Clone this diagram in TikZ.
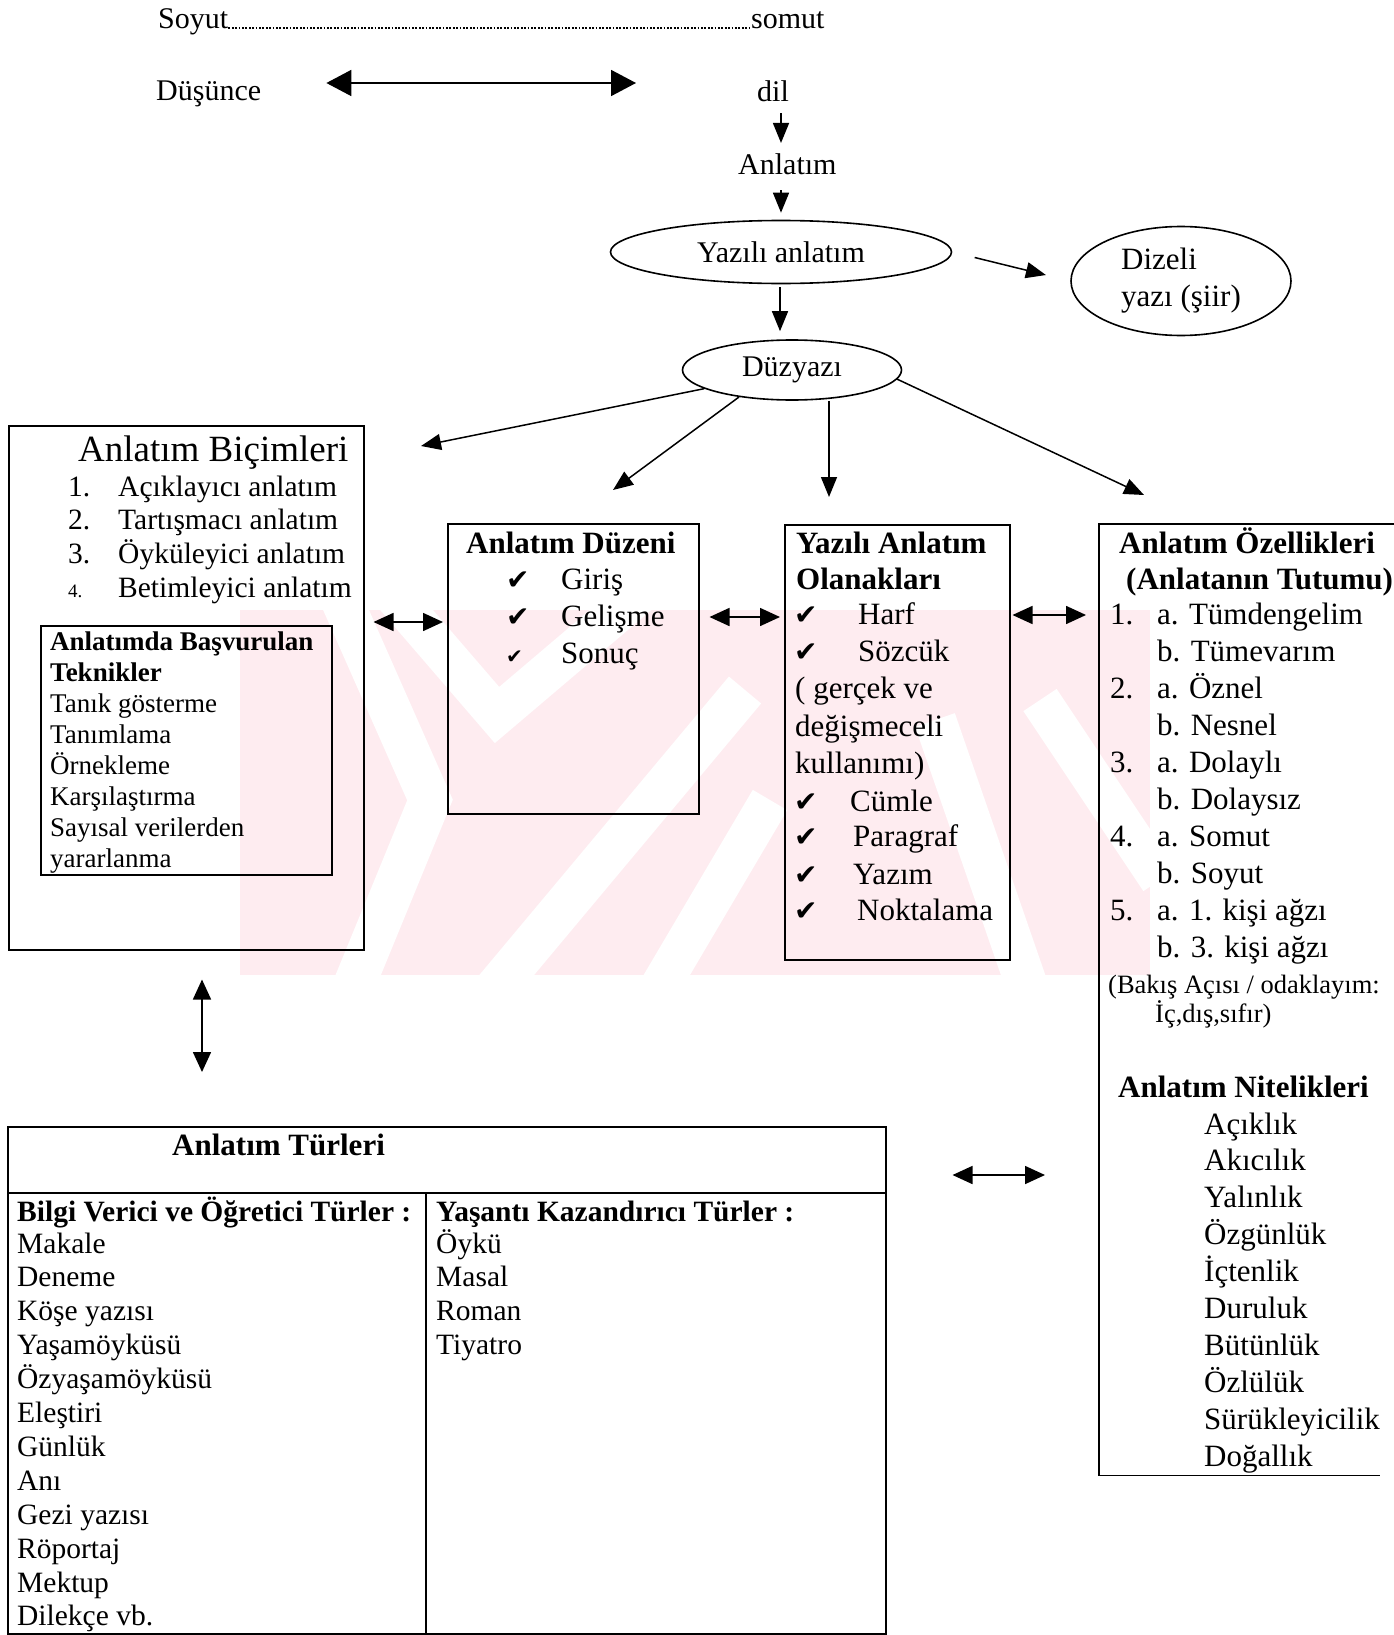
\documentclass[tikz,border=0pt]{standalone}
\usepackage{fontspec}
\setmainfont{Liberation Serif}
\newfontfamily\isaretfont{DejaVu Sans}
\usetikzlibrary{arrows.meta,shapes.geometric}

\definecolor{pembe}{RGB}{254,236,240}
\newcommand{\onay}{{\isaretfont\fontsize{28}{28}\selectfont ✔}}
\newcommand{\kucukonay}{{\isaretfont\fontsize{20}{20}\selectfont ✔}}

\tikzset{
  kutu/.style={draw, line width=1.5pt, inner sep=0pt},
  yazi/.style={inner sep=0pt, anchor=base west, font=\fontsize{31}{35}\selectfont},
  kalin/.style={yazi, font=\fontsize{31}{35}\selectfont\bfseries},
  tablo/.style={yazi, font=\fontsize{29.5}{34}\selectfont},
  balon/.style={draw, ellipse, line width=1.6pt, inner sep=0pt, font=\fontsize{30}{34}\selectfont},
  ok/.style={-{Triangle[length=20pt,width=16pt]}, line width=1.5pt},
  ciftok/.style={{Triangle[length=20pt,width=18pt]}-{Triangle[length=20pt,width=18pt]}, line width=1.6pt},
}

\begin{document}
\begin{tikzpicture}[x=1pt, y=-1pt]
    \useasboundingbox (0,0) rectangle (1393,1635);

    % faint watermark behind the boxes
    \begin{scope}
        \clip (240,610) rectangle (1150,975);
        \fill[pembe] (240,610) rectangle (1150,975);
        \draw[white, line width=42pt] (335,585) -- (430,800) -- (350,995);
        \draw[white, line width=40pt] (385,585) -- (497,715) -- (650,585);
        \draw[white, line width=42pt] (745,690) -- (490,995);
        \draw[white, line width=40pt] (770,800) -- (655,995);
        \draw[white, line width=42pt] (935,720) -- (1030,995);
        \draw[white, line width=40pt] (1040,700) -- (1160,880);
    \end{scope}

    % top line
    \node[yazi, font=\fontsize{30}{34}\selectfont] (soyut) at (158,29) {Soyut};
    \node[yazi, font=\fontsize{30}{34}\selectfont] (somut) at (751,29) {somut};
    \draw[line width=1.8pt, dash pattern=on 1.8pt off 1.6pt]
        ([yshift=1pt]soyut.base east) -- ([yshift=1pt]somut.base west);

    \node[yazi, font=\fontsize{30}{34}\selectfont] (dusunce) at (156,101) {Düşünce};
    \node[yazi, font=\fontsize{30}{34}\selectfont] (dil) at (757,102) {dil};
    \node[yazi, font=\fontsize{30}{34}\selectfont] (anlatim) at (738,174) {Anlatım};
    \draw[{Triangle[length=25pt,width=26pt]}-{Triangle[length=25pt,width=26pt]}, line width=1.8pt,
        shorten <=65pt, shorten >=121pt] (dusunce.east |- 0,83) -- (dil.west |- 0,83);
    \draw[ok, shorten <=11pt, shorten >=10pt] (dil.south -| 781,0) -- (anlatim.north -| 781,0);

    % ellipses
    \node[balon, minimum width=341pt, minimum height=63pt] (yazili) at (781,252) {Yazılı anlatım};
    \node[balon, minimum width=220pt, minimum height=109pt, align=left,
        font=\fontsize{31}{35}\selectfont] (dizeli) at (1181,281) {Dizeli\\[2pt]yazı (şiir)};
    \node[balon, minimum width=219pt, minimum height=60pt] (duzyazi) at (792,370) {Düzyazı};

    \draw[ok, shorten <=16pt, shorten >=7pt] (anlatim.south -| 781,0) -- (yazili.north -| 781,0);
    \draw[ok, shorten <=3pt, shorten >=8pt] (yazili.south -| 780,0) -- (duzyazi.north -| 780,0);
    \draw[ok, shorten <=23pt, shorten >=25pt] (yazili.east) -- (dizeli.west);

    % boxes
    \node[kutu, minimum width=355pt, minimum height=524pt, anchor=north west] (bicim) at (8,425) {};
    \node[kutu, minimum width=291pt, minimum height=249pt, anchor=north west] (teknik) at (40,625) {};
    \node[kutu, minimum width=251pt, minimum height=290pt, anchor=north west] (duzen) at (447,523) {};
    \node[kutu, minimum width=225pt, minimum height=435pt, anchor=north west] (olanak) at (784,524) {};
    \node[inner sep=0pt, minimum width=310pt, minimum height=951pt, anchor=north west] (ozellik) at (1099,524) {};
    \draw[line width=1.5pt] (ozellik.north east) -- (ozellik.north west) -- (ozellik.south west) -- ++(281,0);
    \node[kutu, minimum width=878pt, minimum height=507pt, anchor=north west] (turler) at (7,1126) {};
    \coordinate (ayrac) at (426,1193);
    \draw[line width=1.5pt] (turler.west |- ayrac) -- (turler.east |- ayrac);
    \draw[line width=1.5pt] (ayrac) -- (turler.south -| ayrac);

    % arrows out of Duzyazi
    \coordinate (ucA) at (421,446);
    \coordinate (ucB) at (613,490);
    \coordinate (ucC) at (829,497);
    \coordinate (ucD) at (1144,495);
    \draw[ok] (duzyazi.192) -- (ucA);
    \draw[ok] (duzyazi.207) -- (ucB);
    \draw[ok] (duzyazi.south -| ucC) -- (ucC);
    \draw[ok] (duzyazi.355) -- (ucD);

    % two-way arrows between boxes
    \draw[ciftok, shorten <=9pt, shorten >=4pt] (bicim.east |- 0,622) -- (duzen.west |- 0,622);
    \draw[ciftok, shorten <=10pt, shorten >=4pt] (duzen.east |- 0,617) -- (olanak.west |- 0,617);
    \draw[ciftok, shorten <=2pt, shorten >=13pt] (olanak.east |- 0,615) -- (ozellik.west |- 0,615);
    \draw[ciftok, shorten <=29pt, shorten >=54pt] (bicim.south -| 202,0) -- (turler.north -| 202,0);
    \draw[ciftok, shorten <=66pt, shorten >=54pt] (turler.east |- 0,1175) -- (ozellik.west |- 0,1175);

    % Anlatim Bicimleri
    \node[yazi, font=\fontsize{37}{40}\selectfont] (bicimbaslik) at (78,461) {Anlatım Biçimleri};
    \foreach \n/\t [count=\i from 0] in {1./Açıklayıcı anlatım,2./Tartışmacı anlatım,3./Öyküleyici anlatım}{
        \node[tablo] (bno\i) at (68,{496+33.7*\i}) {\n};
        \node[tablo] (bt\i) at (118,{496+33.7*\i}) {\t};
    }
    \node[yazi, font=\fontsize{19}{20}\selectfont] (bno3) at (68,597) {4.};
    \node[tablo] (bt3) at (118,597) {Betimleyici anlatım};

    \node[kalin, font=\fontsize{27}{31}\selectfont\bfseries] (t0) at (50,650) {Anlatımda Başvurulan};
    \node[kalin, font=\fontsize{27}{31}\selectfont\bfseries] (t1) at (50,681) {Teknikler};
    \foreach \t [count=\i from 2] in {Tanık gösterme,Tanımlama,Örnekleme,Karşılaştırma,Sayısal verilerden,yararlanma}
        \node[yazi, font=\fontsize{27}{31}\selectfont] (t\i) at (50,{650+31*\i}) {\t};

    % Anlatim Duzeni
    \node[kalin] (duzenbaslik) at (466,553) {Anlatım Düzeni};
    \foreach \t [count=\i from 0] in {Giriş,Gelişme}{
        \node[yazi] (dc\i) at (506,{589+37*\i}) {\onay};
        \node[yazi] (d\i) at (561,{589+37*\i}) {\t};
    }
    \node[yazi] (dc2) at (506,663) {\kucukonay};
    \node[yazi] (d2) at (561,663) {Sonuç};

    % Yazili Anlatim Olanaklari
    \node[kalin] (o0) at (796,553) {Yazılı Anlatım};
    \node[kalin] (o1) at (796,589) {Olanakları};
    \foreach \y/\x/\t [count=\i] in {624/858/Harf,661/858/Sözcük,811/850/Cümle,846/853/Paragraf,884/853/Yazım,920/857/Noktalama}{
        \node[yazi] (oc\i) at (794,\y) {\onay};
        \node[yazi] (ot\i) at (\x,\y) {\t};
    }
    \node[yazi] (g0) at (795,698) {( gerçek ve};
    \node[yazi] (g1) at (795,736) {değişmeceli};
    \node[yazi] (g2) at (795,773) {kullanımı)};

    % Anlatim Ozellikleri
    \node[kalin] (oz0) at (1119,553) {Anlatım Özellikleri};
    \node[kalin] (oz1) at (1126,589) {(Anlatanın Tutumu)};
    \foreach \n/\a/\b [count=\i from 0] in {1./Tümdengelim/Tümevarım,2./Öznel/Nesnel,3./Dolaylı/Dolaysız,4./Somut/Soyut,5./1. kişi ağzı/3. kişi ağzı}{
        \node[yazi] (no\i) at (1110,{624+74.2*\i}) {\n};
        \node[yazi] (a\i) at (1157,{624+74.2*\i}) {a. \a};
        \node[yazi] (b\i) at (1157,{661+74.2*\i}) {b. \b};
    }
    \node[yazi, font=\fontsize{26.5}{30}\selectfont] (bakis) at (1108,993) {(Bakış Açısı / odaklayım:};
    \node[yazi, font=\fontsize{26.5}{30}\selectfont] (icdis) at (1155,1022) {İç,dış,sıfır)};

    \node[kalin] (nitbaslik) at (1118,1097) {Anlatım Nitelikleri};
    \foreach \t [count=\i from 0] in {Açıklık,Akıcılık,Yalınlık,Özgünlük,İçtenlik,Duruluk,Bütünlük,Özlülük,Sürükleyicilik,Doğallık}
        \node[yazi] (nit\i) at (1204,{1134+36.9*\i}) {\t};

    % Anlatim Turleri
    \node[kalin] (turbaslik) at (172,1155) {Anlatım Türleri};
    \node[kalin, font=\fontsize{29.5}{34}\selectfont\bfseries] (solbaslik) at (17,1221) {Bilgi Verici ve Öğretici Türler :};
    \node[kalin, font=\fontsize{29.5}{34}\selectfont\bfseries] (sagbaslik) at (436,1221) {Yaşantı Kazandırıcı Türler :};
    \foreach \t [count=\i from 0] in {Makale,Deneme,Köşe yazısı,Yaşamöyküsü,Özyaşamöyküsü,Eleştiri,Günlük,Anı,Gezi yazısı,Röportaj,Mektup,Dilekçe vb.}
        \node[tablo] (sol\i) at (17,{1253+33.9*\i}) {\t};
    \foreach \t [count=\i from 0] in {Öykü,Masal,Roman,Tiyatro}
        \node[tablo] (sag\i) at (436,{1253+33.9*\i}) {\t};
\end{tikzpicture}
\end{document}
